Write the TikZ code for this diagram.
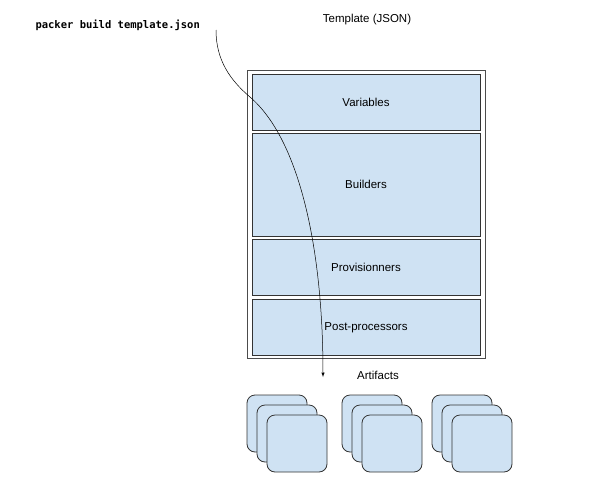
\documentclass[tikz,border=0pt]{standalone}
\usepackage{fontspec}
\setmainfont{Liberation Sans}
\newfontfamily\codefont{DejaVu Sans Mono}
\usepackage{tikz}
\tikzset{>=latex}
\definecolor{boxblue}{HTML}{CFE2F3}
\tikzset{
	txt/.style={font=\fontsize{11.5}{13}\selectfont},
	section/.style={txt, draw=black!80, fill=boxblue, line width=.8pt, minimum width=228pt, inner sep=0pt, text depth=0pt},
	artifact/.style={draw=black!80, fill=boxblue, line width=.8pt, rounded corners=8pt, minimum width=60pt, minimum height=57pt}
}

\begin{document}
\begin{tikzpicture}[x=1pt, y=-1pt]
    \useasboundingbox (0, 0) rectangle (600, 477);
    \node[txt] (tmpl) at (367, 20) {Template (JSON)};
    \node[anchor=west, font=\codefont\bfseries\fontsize{10.5}{12}\selectfont] (cmd) at (32, 25) {packer build template.json};
    \node[draw=black!70, line width=.8pt, minimum width=238pt, minimum height=288pt] (outer) at (366, 214) {};
    \node[section, minimum height=56pt] (vars) at (366, 102) {Variables};
    \node[section, minimum height=103pt] (builders) at (366, 184.5) {Builders};
    \node[section, minimum height=56pt] (provs) at (366, 267) {Provisionners};
    \node[section, minimum height=56pt] (post) at (366, 327) {Post-processors};
    \node[txt] (arts) at (378, 375) {Artifacts};
    \foreach \x [count=\g] in {247, 342, 432}
        \foreach \k in {0, 1, 2}
            \node[artifact] (art\g\k) at (\x+30+10*\k, 423.5+10*\k) {};
    \coordinate (start) at (216, 30);
    \coordinate (tip) at (323, 377);
    \draw[->, line width=.5pt](start) .. controls (216, 60) and (230, 80) .. (250, 97) .. controls (300, 140) and (323, 250) .. (tip);
\end{tikzpicture}
\end{document}
